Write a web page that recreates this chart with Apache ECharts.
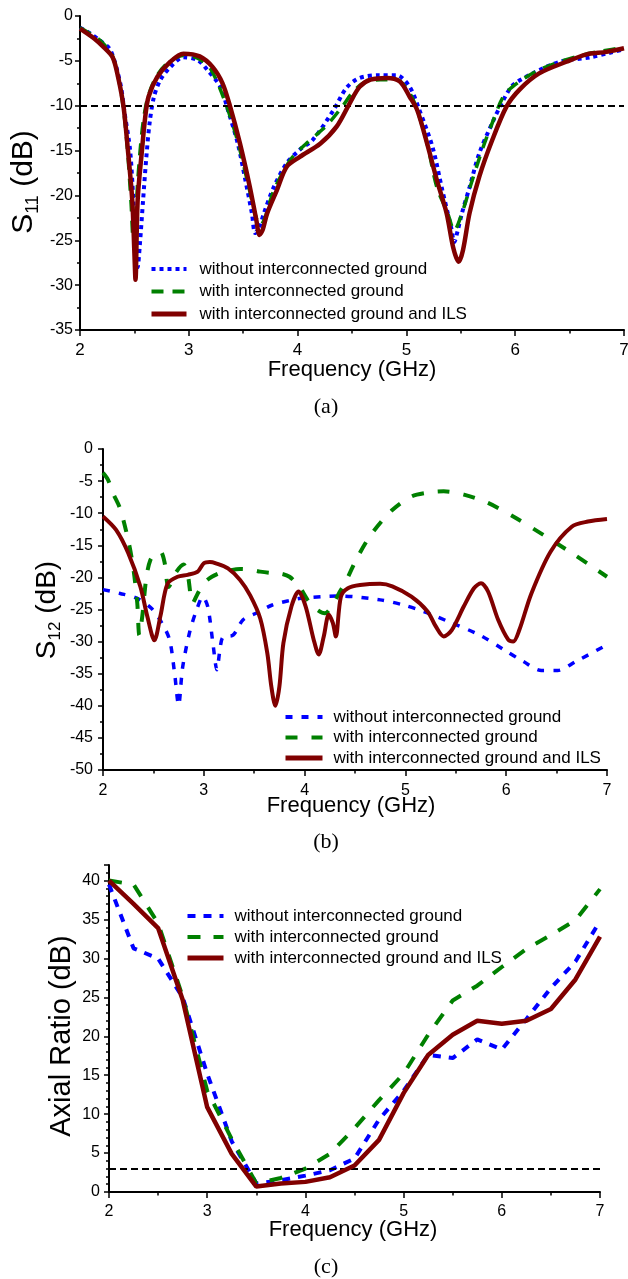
<!DOCTYPE html>
<html><head><meta charset="utf-8">
<script src="https://cdn.jsdelivr.net/npm/echarts@6/dist/echarts.min.js"></script>
<style>html,body{margin:0;padding:0;background:#fff}#c{width:628px;height:1279px}</style>
</head><body><div id="c"></div>
<script>
const legendNames = ['without interconnected ground', 'with interconnected ground', 'with interconnected ground and ILS'];

// (a) S11 (dB) vs frequency (GHz)
const s11BlueFreq = [2.0, 2.1, 2.18, 2.28, 2.37, 2.41, 2.46, 2.49, 2.51, 2.53, 2.55, 2.58, 2.61, 2.64, 2.68, 2.74, 2.83, 2.95, 3.08, 3.17, 3.29, 3.36, 3.45, 3.52, 3.58, 3.61, 3.65, 3.69, 3.78, 3.90, 4.02, 4.14, 4.33, 4.45, 4.57, 4.75, 4.91, 5.03, 5.12, 5.24, 5.33, 5.41, 5.44, 5.47, 5.51, 5.58, 5.67, 5.79, 5.89, 5.98, 6.16, 6.41, 6.69, 6.87, 7.0];
const s11Blue = [-1.3, -2.0, -2.7, -3.8, -7.5, -10.8, -14.9, -20.5, -25.0, -28.0, -25.5, -20.5, -15.7, -11.9, -9.0, -7.1, -5.7, -4.6, -4.9, -6.0, -7.9, -10.5, -14.2, -18.3, -22.0, -24.2, -23.5, -22.0, -19.1, -16.4, -14.9, -13.8, -10.5, -8.0, -6.9, -6.6, -6.6, -7.9, -10.5, -14.6, -19.4, -23.5, -25.2, -24.0, -22.0, -19.1, -15.3, -11.9, -9.4, -7.7, -6.4, -5.1, -4.6, -4.1, -3.7];
const s11GreenFreq = [2.0, 2.1, 2.2, 2.3, 2.37, 2.41, 2.44, 2.47, 2.49, 2.51, 2.53, 2.56, 2.59, 2.63, 2.70, 2.80, 2.95, 3.08, 3.20, 3.34, 3.45, 3.55, 3.62, 3.66, 3.70, 3.78, 3.93, 4.08, 4.26, 4.41, 4.50, 4.60, 4.76, 4.91, 5.03, 5.10, 5.19, 5.28, 5.38, 5.44, 5.51, 5.60, 5.70, 5.79, 5.90, 6.04, 6.22, 6.41, 6.60, 6.80, 7.0];
const s11Green = [-1.3, -2.0, -2.9, -4.5, -8.0, -11.5, -15.5, -21.0, -25.0, -23.0, -18.5, -14.0, -11.0, -8.8, -6.8, -5.3, -4.4, -4.7, -5.9, -9.8, -14.0, -19.0, -22.5, -23.3, -22.5, -19.5, -16.1, -14.2, -12.3, -10.1, -8.6, -7.5, -7.1, -7.1, -8.6, -10.5, -14.2, -19.1, -22.0, -23.9, -22.0, -18.5, -14.8, -11.9, -8.8, -7.3, -6.0, -5.1, -4.4, -3.9, -3.5];
const s11RedFreq = [2.0, 2.13, 2.22, 2.30, 2.35, 2.40, 2.44, 2.48, 2.50, 2.51, 2.53, 2.57, 2.60, 2.63, 2.71, 2.83, 2.95, 3.10, 3.22, 3.31, 3.38, 3.47, 3.56, 3.62, 3.65, 3.68, 3.72, 3.81, 3.90, 4.02, 4.21, 4.36, 4.48, 4.57, 4.67, 4.82, 4.94, 5.03, 5.10, 5.19, 5.28, 5.37, 5.43, 5.48, 5.52, 5.58, 5.67, 5.79, 5.92, 6.04, 6.22, 6.47, 6.65, 6.84, 7.0];
const s11Red = [-1.4, -2.5, -3.5, -4.6, -6.8, -10.1, -14.9, -20.5, -26.4, -29.4, -20.5, -14.9, -11.2, -9.0, -6.8, -5.1, -4.2, -4.5, -5.7, -7.5, -10.1, -14.2, -19.0, -22.7, -24.4, -23.8, -22.0, -19.4, -16.8, -15.7, -14.2, -12.3, -9.7, -7.9, -7.1, -6.9, -7.3, -9.0, -10.5, -14.2, -18.3, -22.0, -25.8, -27.4, -26.1, -22.0, -17.9, -13.8, -10.1, -8.2, -6.4, -5.1, -4.3, -4.0, -3.6];
const s11Threshold = -10;

// (b) S12 (dB) vs frequency (GHz)
const s12BlueFreq = [2.0, 2.17, 2.33, 2.48, 2.58, 2.66, 2.71, 2.75, 2.79, 2.86, 2.93, 2.99, 3.04, 3.09, 3.13, 3.16, 3.19, 3.29, 3.39, 3.53, 3.68, 3.85, 3.99, 4.35, 4.75, 4.98, 5.18, 5.46, 5.74, 5.98, 6.17, 6.35, 6.51, 6.69, 7.0];
const s12Blue = [-21.9, -22.5, -23.2, -24.8, -27.0, -29.7, -34.9, -39.9, -34.0, -28.5, -25.0, -23.0, -24.6, -30.2, -34.4, -31.3, -29.3, -29.0, -26.6, -25.5, -24.3, -23.6, -23.2, -22.9, -23.5, -24.3, -25.3, -27.1, -29.0, -31.3, -33.1, -34.5, -34.5, -33.1, -30.5];
const s12GreenFreq = [2.0, 2.05, 2.10, 2.17, 2.25, 2.30, 2.34, 2.36, 2.39, 2.43, 2.47, 2.52, 2.57, 2.61, 2.65, 2.72, 2.80, 2.84, 2.89, 2.94, 3.00, 3.08, 3.16, 3.26, 3.36, 3.46, 3.56, 3.66, 3.76, 3.85, 3.95, 4.03, 4.12, 4.20, 4.27, 4.34, 4.40, 4.53, 4.67, 4.87, 5.06, 5.22, 5.38, 5.58, 5.82, 6.10, 6.37, 6.65, 7.0];
const s12Green = [-3.7, -4.8, -6.9, -9.3, -14.2, -18.5, -24.0, -29.0, -26.0, -20.0, -17.3, -16.4, -16.0, -17.6, -21.5, -19.3, -18.0, -19.5, -24.0, -22.5, -20.9, -19.9, -19.3, -18.9, -18.7, -18.8, -19.1, -19.3, -19.4, -19.9, -21.5, -23.5, -25.0, -25.6, -24.5, -22.5, -20.9, -16.7, -13.1, -9.5, -7.4, -6.8, -6.6, -7.1, -8.4, -10.8, -13.4, -16.2, -19.9];
const s12RedFreq = [2.0, 2.13, 2.25, 2.37, 2.44, 2.51, 2.57, 2.64, 2.74, 2.84, 2.94, 3.0, 3.06, 3.12, 3.24, 3.36, 3.46, 3.56, 3.63, 3.67, 3.71, 3.75, 3.79, 3.87, 3.94, 4.01, 4.09, 4.14, 4.19, 4.24, 4.28, 4.31, 4.36, 4.43, 4.55, 4.75, 4.87, 5.06, 5.22, 5.30, 5.38, 5.46, 5.58, 5.68, 5.75, 5.82, 5.92, 6.02, 6.07, 6.13, 6.25, 6.44, 6.65, 6.81, 7.0];
const s12Red = [-10.5, -12.6, -16.2, -21.4, -26.1, -29.8, -26.0, -21.0, -19.9, -19.6, -19.1, -17.8, -17.6, -17.8, -18.6, -20.4, -22.8, -26.4, -31.8, -37.0, -40.0, -37.0, -30.2, -24.5, -22.2, -24.5, -29.7, -32.0, -29.2, -25.8, -27.1, -29.2, -23.0, -21.7, -21.2, -21.0, -21.4, -23.0, -25.3, -27.6, -29.2, -28.2, -24.5, -21.7, -20.9, -22.2, -26.6, -29.7, -30.0, -28.2, -22.5, -16.0, -12.1, -11.3, -10.9];

// (c) Axial ratio (dB) vs frequency (GHz)
const arFreq = [2.0, 2.25, 2.5, 2.75, 3.0, 3.25, 3.5, 3.75, 4.0, 4.25, 4.5, 4.75, 5.0, 5.25, 5.5, 5.75, 6.0, 6.25, 6.5, 6.75, 7.0];
const arBlue = [39.5, 31.3, 30.0, 25.0, 15.2, 6.5, 1.1, 1.5, 2.1, 2.8, 4.3, 9.3, 13.0, 17.6, 17.2, 19.6, 18.3, 22.2, 26.2, 29.6, 34.8];
const arGreen = [40.0, 39.5, 34.5, 25.1, 13.0, 6.8, 1.1, 1.8, 3.0, 4.9, 8.2, 11.8, 15.2, 20.2, 24.6, 26.5, 28.9, 31.2, 33.0, 34.9, 38.9];
const arRed = [40.0, 37.0, 33.9, 24.7, 10.9, 4.9, 0.7, 1.1, 1.3, 1.9, 3.4, 6.7, 12.7, 17.6, 20.2, 22.0, 21.6, 22.0, 23.5, 27.3, 32.8];
const arThreshold = 3;

// axis ranges
const freqRange = [2, 7, 1];
const s11Range = [-35, 0, 5];
const s12Range = [-50, 0, 5];
const arRange = [0, 42, 5];

const SANS = '"Liberation Sans", Arial, Helvetica, sans-serif';
const SERIF = '"Liberation Serif", "Times New Roman", serif';
const BLUE = '#0000ff', GREEN = '#008000', RED = '#800000';

const pairs = (f, v) => f.map((x, i) => [x, v[i]]);

function xAx(idx, fs, margin) {
  return {
    type: 'value', gridIndex: idx, min: freqRange[0], max: freqRange[1], interval: freqRange[2],
    axisLine: {show: true, onZero: false, lineStyle: {color: '#000', width: 2}},
    axisTick: {show: true, length: 6, lineStyle: {color: '#000', width: 1.5}},
    minorTick: {show: true, splitNumber: 2, length: 3.5, lineStyle: {color: '#000', width: 1.5}},
    splitLine: {show: false}, minorSplitLine: {show: false},
    axisLabel: {color: '#000', fontSize: fs, fontFamily: SANS, margin: margin}
  };
}
function yAx(idx, r, fs, minorSplit, margin) {
  return {
    type: 'value', gridIndex: idx, min: r[0], max: r[1], interval: r[2],
    axisLine: {show: true, onZero: false, lineStyle: {color: '#000', width: 2}},
    axisTick: {show: true, length: 5, lineStyle: {color: '#000', width: 1.5}},
    minorTick: {show: true, splitNumber: minorSplit, length: 3, lineStyle: {color: '#000', width: 1.5}},
    splitLine: {show: false}, minorSplitLine: {show: false},
    axisLabel: {color: '#000', fontSize: fs, fontFamily: SANS, margin: margin, showMaxLabel: r[1] % r[2] === 0}
  };
}
function ser(name, f, v, idx, color, width, dash, smooth, z) {
  return {
    type: 'line', name: name, xAxisIndex: idx, yAxisIndex: idx, data: pairs(f, v),
    symbol: 'none', showSymbol: false, smooth: smooth, z: z,
    lineStyle: {color: color, width: width, type: dash}, itemStyle: {color: color},
    emphasis: {disabled: true}, animation: false
  };
}
function refLine(val) {
  return {silent: true, symbol: 'none', label: {show: false}, animation: false,
    lineStyle: {color: '#000', type: [7, 4], width: 2}, data: [{yAxis: val}]};
}
const hiddenSym = {color: 'rgba(0,0,0,0)', borderWidth: 0, opacity: 0};
function legendItems(dashBlue, dashGreen, wB, wG, wR) {
  return [
    {name: legendNames[0], itemStyle: hiddenSym, lineStyle: {type: dashBlue, width: wB}},
    {name: legendNames[1], itemStyle: hiddenSym, lineStyle: {type: dashGreen, width: wG}},
    {name: legendNames[2], itemStyle: hiddenSym, lineStyle: {type: 'solid', width: wR}}
  ];
}
function legend(left, top, iw, gap, textPad, items) {
  return {orient: 'vertical', left: left, top: top, itemWidth: iw, itemHeight: 14, itemGap: gap,
    selectedMode: false, padding: 0, itemStyle: hiddenSym,
    textStyle: {color: '#000', fontSize: 17, lineHeight: 18, fontFamily: SANS, padding: [0, 0, 0, textPad]},
    data: items};
}

const sA = 0.3, sB = 0.3;
const redA = ser(legendNames[2], s11RedFreq, s11Red, 0, RED, 4.5, 'solid', sA, 5);
redA.markLine = refLine(s11Threshold);
const redC = ser(legendNames[2], arFreq, arRed, 2, RED, 4.5, 'solid', false, 5);
redC.markLine = refLine(arThreshold);

const rich = (fs, sub) => ({
  m: {fontSize: fs, lineHeight: fs + 6, fontFamily: SANS, color: '#000'},
  s: {fontSize: sub, lineHeight: sub, fontFamily: SANS, color: '#000', verticalAlign: 'bottom'}
});
function txt(x, y, text, font, rot, richDef) {
  const st = {text: text, x: 0, y: 0, align: 'center', verticalAlign: 'middle', fill: '#000', font: font};
  if (richDef) st.rich = richDef;
  return {type: 'text', x: x, y: y, rotation: rot || 0, silent: true, style: st};
}

const chart = echarts.init(document.getElementById('c'), null, {renderer: 'canvas'});
chart.setOption({
  animation: false,
  backgroundColor: '#fff',
  grid: [
    {left: 80, top: 16, width: 544, height: 314, containLabel: false, outerBoundsMode: 'none'},
    {left: 103, top: 449, width: 504, height: 321, containLabel: false, outerBoundsMode: 'none'},
    {left: 109, top: 865, width: 491, height: 327, containLabel: false, outerBoundsMode: 'none'}
  ],
  xAxis: [xAx(0, 17, 12), xAx(1, 16, 13), xAx(2, 16, 12)],
  yAxis: [yAx(0, s11Range, 16, 2, 7), yAx(1, s12Range, 16, 2, 10), yAx(2, arRange, 16, 5, 9)],
  legend: [
    legend(149, 260, 35, 4.5, 8, legendItems([4, 4], [12, 9], 4, 4, 5)),
    legend(283, 708, 37, 2.5, 6, legendItems([7, 9], [12, 14], 4, 4, 5)),
    legend(185, 907, 36, 3, 6, legendItems([8, 8], [13, 13], 4, 4, 5))
  ],
  series: [
    ser(legendNames[0], s11BlueFreq, s11Blue, 0, BLUE, 4, [4, 4], sA, 3),
    ser(legendNames[1], s11GreenFreq, s11Green, 0, GREEN, 3.5, [12, 9], sA, 4),
    redA,
    ser(legendNames[0], s12BlueFreq, s12Blue, 1, BLUE, 3.5, [7, 9], sB, 3),
    ser(legendNames[1], s12GreenFreq, s12Green, 1, GREEN, 4, [12, 14], sB, 4),
    ser(legendNames[2], s12RedFreq, s12Red, 1, RED, 4, 'solid', sB, 5),
    ser(legendNames[0], arFreq, arBlue, 2, BLUE, 4, [8, 8], false, 3),
    ser(legendNames[1], arFreq, arGreen, 2, GREEN, 4, [13, 13], false, 4),
    redC
  ],
  graphic: [
    txt(24, 182, '{m|S}{s|11}{m| (dB)}', '30px ' + SANS, Math.PI / 2, rich(30, 18)),
    txt(47, 610, '{m|S}{s|12}{m| (dB)}', '28px ' + SANS, Math.PI / 2, rich(28, 17)),
    txt(62, 1036, 'Axial Ratio (dB)', '29px ' + SANS, Math.PI / 2),
    txt(352, 370, 'Frequency (GHz)', '22px ' + SANS),
    txt(351, 806, 'Frequency (GHz)', '22px ' + SANS),
    txt(353, 1230, 'Frequency (GHz)', '22px ' + SANS),
    txt(326, 407, '(a)', '22px ' + SERIF),
    txt(326, 842, '(b)', '22px ' + SERIF),
    txt(326, 1267, '(c)', '22px ' + SERIF)
  ]
});
</script></body></html>
